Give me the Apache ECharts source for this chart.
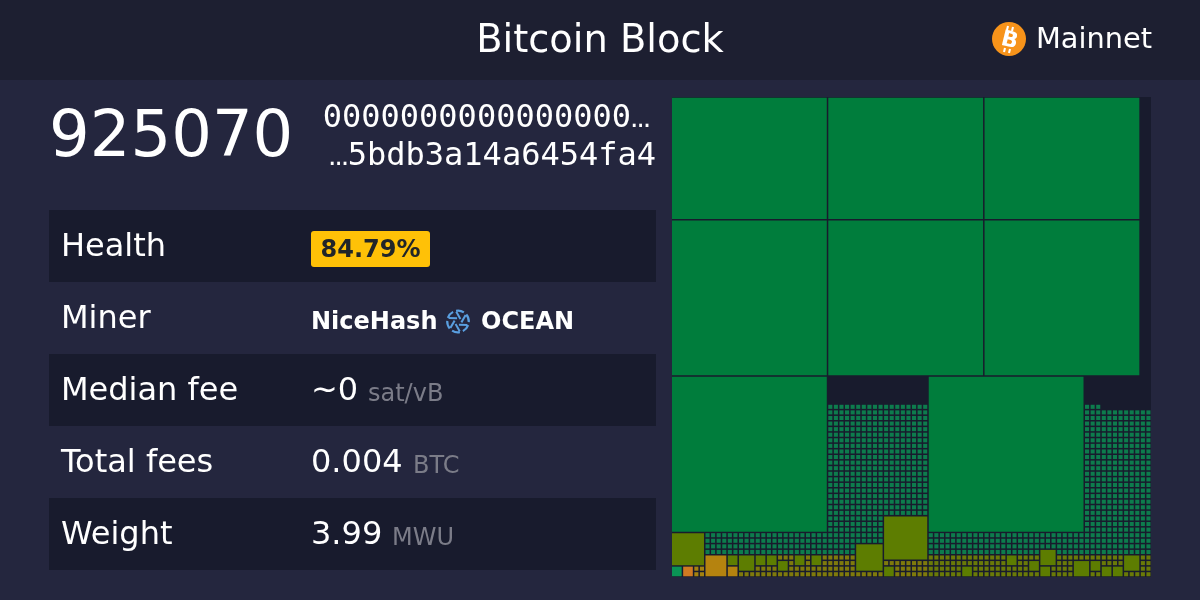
<!DOCTYPE html>
<html>
<head>
<meta charset="utf-8">
<script src="https://cdn.jsdelivr.net/npm/echarts@6/dist/echarts.min.js"></script>
<style>html,body{margin:0;padding:0;background:#24263e}#c{width:1200px;height:600px}</style>
</head>
<body>
<div id="c"></div>
<script>
// ---- Text content ----
const titleText = 'Bitcoin Block';
const networkText = 'Mainnet';
const blockHeight = '925070';
const hashLines = ['0000000000000000', '5bdb3a14a6454fa4'];
const ellipsis = '…';
const rowLabels = ['Health', 'Miner', 'Median fee', 'Total fees', 'Weight'];
const healthValue = '84.79%';
const minerNames = ['NiceHash', 'OCEAN'];
const rowValues = [null, null, '~0', '0.004', '3.99'];
const rowUnits = [null, null, 'sat/vB', 'BTC', 'MWU'];

// ---- Block map, in block grid units: [x, y, w, h] ----
const gridUnits = 86;
const fullTiles = [
  [0,64,28,22],[28,64,28,22],[56,64,28,22],
  [0,36,28,28],[28,36,28,28],[56,36,28,28],
  [0,8,28,28],[46,8,28,28]
];
const oliveTiles = [
  [0,2,6,6],[10,2,2,2],[12,1,3,3],[15,2,2,2],[17,2,2,2],[19,1,2,2],[22,2,2,2],[25,2,2,2],
  [33,1,5,5],[38,3,8,8],[38,0,2,2],[52,0,2,2],[60,2,2,2],[64,1,2,2],[66,2,3,3],[66,0,2,2],
  [72,0,3,3],[75,1,2,2],[77,0,2,2],[79,0,2,2],[81,1,3,3]
];
const tanTiles = [[6,0,4,4],[10,0,2,2]];
const orangeTiles = [[2,0,2,2]];
const brightTiles = [[0,0,2,2]];
// Unit-cell fields of tiny transactions: [firstRow, lastRow, firstCol, lastCol] (inclusive)
const tealCellFields = [
  [4,4,6,32],[4,4,46,65],[4,4,69,85],
  [5,5,6,32],[5,5,46,85],
  [6,7,6,37],[6,7,46,85],
  [8,10,28,37],[8,29,74,85],
  [11,30,28,45],[30,30,74,76]
];
const oliveCellFields = [
  [3,3,46,59],[3,3,62,65],[3,3,69,80],[3,3,84,85],
  [2,2,46,59],[2,2,62,63],[2,2,69,71],[2,2,77,80],[2,2,84,85],
  [1,1,46,51],[1,1,54,63],[1,1,68,71],[1,1,84,85],
  [0,0,46,51],[0,0,54,65],[0,0,68,71],[0,0,75,76],[0,0,81,85]
];
const khakiCellFields = [
  [3,3,19,21],[3,3,24,24],[3,3,27,32],
  [2,2,21,21],[2,2,24,24],[2,2,27,32],[2,2,38,45],
  [1,1,15,18],[1,1,21,32],[1,1,40,45],
  [0,0,12,37],[0,0,40,45]
];
const tanCellFields = [[0,1,4,5]];

// ---- Palette ----
const colors = {
  band: '#1d1f31', panel: '#181b2d', text: '#ffffff', unit: '#7b7c88',
  badge: '#ffc107', badgeText: '#212529', btc: '#f7931a', ocean: '#5a9fe0',
  full: '#007d3c', olive: '#5d7d01', tan: '#b5830f', orange: '#cf7a22', bright: '#0a9455',
  tinyTeal: '#0d7c4d', tinyOlive: '#6a7a08', tinyKhaki: '#7f7a0c', tinyTan: '#a5820f'
};

const sans = '"DejaVu Sans"';
const mono = '"DejaVu Sans Mono"';
const dots = '"Liberation Mono"';
const tileGap = 1.5;
const tileShiftY = 0.8;

function expand(fields) {
  const out = [];
  fields.forEach(([r0, r1, c0, c1]) => {
    for (let r = r0; r <= r1; r++) for (let c = c0; c <= c1; c++) out.push([c, r, 1, 1]);
  });
  return out;
}
function tileSeries(data, color) {
  return {
    type: 'custom', coordinateSystem: 'cartesian2d', silent: true, animation: false,
    data: data, encode: { x: 0, y: 1 }, clip: false,
    renderItem: (params, api) => {
      const x = api.value(0), y = api.value(1), w = api.value(2), h = api.value(3);
      const p = api.coord([x, y + h]);
      const s = api.size([w, h]);
      return { type: 'rect', shape: { x: p[0], y: p[1] + tileShiftY, width: s[0] - tileGap, height: s[1] - tileGap }, style: { fill: color } };
    }
  };
}

// ---- Page furniture ----
const g = [];
function txt(x, y, text, font, fill, align, extra) {
  g.push(Object.assign({ type: 'text', z: 20, silent: true, x: x, y: y,
    style: { text: text, font: font, fill: fill, align: align || 'left', verticalAlign: 'middle' } }, extra || {}));
}
g.push({ type: 'rect', z: 1, silent: true, shape: { x: 0, y: 0, width: 1200, height: 80 }, style: { fill: colors.band } });
[0, 2, 4].forEach(i => g.push({ type: 'rect', z: 1, silent: true, shape: { x: 49, y: 210 + 72 * i, width: 607, height: 72 }, style: { fill: colors.panel } }));
g.push({ type: 'rect', z: 1, silent: true, shape: { x: 672, y: 97, width: 479, height: 480 }, style: { fill: colors.panel } });

// network badge
g.push({ type: 'circle', z: 20, silent: true, shape: { cx: 1009, cy: 39, r: 17 }, style: { fill: colors.btc } });
txt(1009.5, 41, 'B', 'bold 22px ' + sans, '#ffffff', 'center', { rotation: -0.24, originX: 0, originY: 0 });
[[1008,26,1007,30],[1013,27,1012,31],[1005,48,1004,52],[1010,49,1009,53]].forEach(l =>
  g.push({ type: 'line', z: 21, silent: true, shape: { x1: l[0], y1: l[1], x2: l[2], y2: l[3] }, style: { stroke: '#fff', lineWidth: 2 } }));
txt(1036, 41, networkText, '28.8px ' + sans, colors.text);

txt(49, 139, blockHeight, '64px ' + sans, colors.text);
txt(631, 119, hashLines[0], '32px ' + mono, colors.text, 'right');
txt(631, 119, ellipsis, '32px ' + dots, colors.text, 'left');
txt(656, 157, hashLines[1], '32px ' + mono, colors.text, 'right');
txt(329, 157, ellipsis, '32px ' + dots, colors.text, 'left');

rowLabels.forEach((t, i) => txt(61, 248 + 72 * i, t, '32px ' + sans, colors.text));
g.push({ type: 'rect', z: 10, silent: true, shape: { x: 311, y: 231, width: 119, height: 36, r: 3 }, style: { fill: colors.badge } });
txt(370.5, 251, healthValue, 'bold 24px ' + sans, colors.badgeText, 'center');
txt(311, 323, minerNames[0], 'bold 24px ' + sans, colors.text);
txt(481, 323, minerNames[1], 'bold 24px ' + sans, colors.text);

// pool glyph: six arcs with six inward spokes
const oc = [458, 321.5];
[0, 1, 2, 3, 4, 5].forEach(k => {
  const a = k * Math.PI / 3 + 0.35;
  g.push({ type: 'arc', z: 20, silent: true, shape: { cx: oc[0], cy: oc[1], r: 10.8, startAngle: a, endAngle: a + 0.75 },
    style: { stroke: colors.ocean, lineWidth: 2.2, fill: 'none' } });
  g.push({ type: 'line', z: 20, silent: true,
    shape: { x1: oc[0] + 10 * Math.cos(a), y1: oc[1] + 10 * Math.sin(a), x2: oc[0] + 3.5 * Math.cos(a + 0.95), y2: oc[1] + 3.5 * Math.sin(a + 0.95) },
    style: { stroke: colors.ocean, lineWidth: 2 } });
});

const valueX = [null, null, 311, 311, 311];
const unitX = [null, null, 368, 413, 392];
rowValues.forEach((v, i) => {
  if (v === null) return;
  txt(valueX[i], 248 + 72 * i, v, '32px ' + sans, colors.text);
  txt(unitX[i], 251 + 72 * i, rowUnits[i], '24px ' + sans, colors.unit);
});

const chart = echarts.init(document.getElementById('c'), null, { renderer: 'canvas' });
chart.setOption({
  animation: false,
  backgroundColor: '#24263e',
  title: { text: titleText, left: 'center', top: 18, textStyle: { color: colors.text, fontFamily: sans, fontSize: 38.4, fontWeight: 'normal' } },
  grid: { left: 672, top: 97, width: 480, height: 480 },
  xAxis: { type: 'value', min: 0, max: gridUnits, show: false },
  yAxis: { type: 'value', min: 0, max: gridUnits, show: false },
  tooltip: { show: false },
  graphic: { elements: g },
  series: [
    tileSeries(fullTiles, colors.full),
    tileSeries(oliveTiles, colors.olive),
    tileSeries(tanTiles, colors.tan),
    tileSeries(orangeTiles, colors.orange),
    tileSeries(brightTiles, colors.bright),
    tileSeries(expand(tealCellFields), colors.tinyTeal),
    tileSeries(expand(oliveCellFields), colors.tinyOlive),
    tileSeries(expand(khakiCellFields), colors.tinyKhaki),
    tileSeries(expand(tanCellFields), colors.tinyTan)
  ]
});
</script>
</body>
</html>
